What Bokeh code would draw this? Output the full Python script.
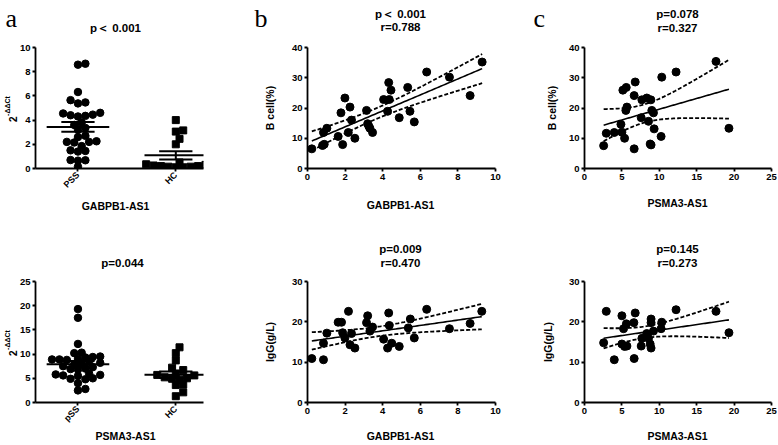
import numpy as np
from bokeh.plotting import figure
from bokeh.layouts import row, column
from bokeh.models import Label, FixedTicker, Range1d, LinearAxis
from bokeh.embed import file_html
from bokeh.resources import INLINE

# ---------------- data ----------------
a1_groups = ["PSS", "HC"]
a1_pss = [8.66, 8.58, 6.32, 5.65, 5.46, 5.38, 4.60, 4.55, 4.45, 4.40, 4.35, 4.30, 3.80, 3.60,
          3.35, 3.20, 2.70, 2.60, 2.25, 2.20, 2.20, 2.15, 1.85, 1.50, 1.45, 1.40, 0.70, 0.68,
          0.65, 0.15]
a1_hc = [4.0, 3.15, 3.05, 2.45, 2.0, 0.50, 0.45, 0.35, 0.30, 0.25, 0.20, 0.20, 0.15, 0.15,
         0.10, 0.10]

a2_groups = ["pSS", "HC"]
a2_pss = [19.3, 17.5, 12.1, 10.3, 10.2, 9.5, 9.4, 9.3, 9.0, 8.9, 8.9, 8.8, 8.3, 8.2, 8.0, 7.9,
          7.5, 7.3, 7.0, 6.9, 6.8, 6.0, 5.8, 5.7, 5.6, 5.5, 5.0, 4.9, 4.8, 4.0, 2.8, 2.5]
a2_hc = [11.4, 10.2, 8.7, 7.2, 6.7, 6.0, 5.7, 5.6, 5.2, 5.0, 4.9, 4.7, 3.7, 3.6, 2.1, 1.3]

b1_x = [0.23, 0.80, 0.89, 0.85, 1.03, 1.63, 1.78, 1.87, 1.99, 2.17, 2.26, 2.34, 2.52, 3.14,
        3.20, 3.26, 3.32, 3.46, 4.05, 4.26, 4.32, 4.35, 4.44, 4.88, 5.33, 5.45, 5.68, 6.34,
        7.55, 8.65, 9.29]
b1_y = [6.5, 7.6, 8.0, 11.9, 13.3, 10.6, 18.4, 7.9, 23.3, 11.9, 20.3, 16.0, 10.0, 19.2,
        14.8, 14.0, 13.3, 11.9, 22.8, 18.9, 28.4, 22.8, 25.9, 16.8, 26.8, 18.9, 15.4, 31.9,
        30.2, 24.1, 35.2]

b2_x = [0.23, 0.85, 0.85, 1.03, 1.63, 1.81, 1.87, 1.99, 2.18, 2.26, 2.34, 2.52, 3.14, 3.20,
        3.32, 3.46, 4.05, 4.26, 4.32, 4.35, 4.48, 4.88, 5.36, 5.47, 5.68, 6.34, 7.55, 8.65,
        9.27]
b2_y = [10.9, 14.7, 10.6, 17.2, 19.9, 19.9, 17.3, 16.0, 22.6, 14.3, 17.1, 13.5, 19.8, 21.5,
        17.7, 18.7, 15.7, 13.5, 22.2, 19.1, 14.7, 13.9, 18.5, 20.7, 16.0, 23.1, 18.3, 19.6,
        22.6]

c1_x = [2.56, 2.91, 3.98, 4.87, 5.00, 5.36, 5.13, 5.58, 5.67, 5.53, 6.64, 6.78, 6.64, 7.67,
        7.58, 8.33, 8.87, 8.56, 9.00, 9.22, 8.78, 8.90, 9.31, 10.24, 10.33, 12.24, 17.58,
        19.31]
c1_y = [7.55, 11.65, 11.9, 14.6, 12.0, 10.0, 25.9, 26.8, 20.3, 19.2, 24.1, 28.6, 6.5, 22.7,
        16.8, 23.3, 22.7, 15.6, 19.2, 18.4, 8.1, 7.8, 13.1, 10.6, 30.2, 31.9, 35.4, 13.3]

c2_x = [2.56, 2.91, 3.98, 5.00, 5.00, 5.36, 5.60, 5.22, 5.67, 6.60, 6.78, 6.64, 7.58, 7.67,
        8.56, 8.33, 8.90, 8.90, 8.78, 8.90, 9.22, 10.33, 10.24, 12.24, 17.58, 19.31]
c2_y = [14.8, 22.6, 10.6, 21.5, 14.5, 13.9, 19.5, 18.3, 14.0, 19.8, 22.2, 10.9, 14.0, 15.9,
        15.9, 17.1, 20.7, 19.8, 14.5, 13.5, 17.7, 19.9, 18.3, 23.0, 22.6, 17.3]

a1_title = "p\uff1c 0.001"
a2_title = "p=0.044"
b1_title = ["p\uff1c 0.001", "r=0.788"]
b2_title = ["p=0.009", "r=0.470"]
c1_title = ["p=0.078", "r=0.327"]
c2_title = ["p=0.145", "r=0.273"]

a1_xlabel = "GABPB1-AS1"
a2_xlabel = "PSMA3-AS1"
b_xlabel = "GABPB1-AS1"
c_xlabel = "PSMA3-AS1"
top_ylabel = "B cell(%)"
bot_ylabel = "IgG(g/L)"
a_ylabel = ["2", "-\u0394\u0394Ct"]
letters = ["a", "b", "c"]

a1_yticks = [0, 2, 4, 6, 8, 10]
a2_yticks = [0, 5, 10, 15, 20, 25]
b_xticks = [0, 2, 4, 6, 8, 10]
c_xticks = [0, 5, 10, 15, 20, 25]
top_yticks = [0, 10, 20, 30, 40]
bot_yticks = [0, 10, 20, 30]

# ---------------- geometry (page pixels) ----------------
FONT = "Liberation Sans"
SERIF = "Liberation Serif"
NB = "\u00a0"

R1 = (0, 39)        # top strip
R2 = (39, 157)      # top plots  (frame 47..171)
R3 = (196, 76)      # middle strip
R4 = (272, 157)     # bottom plots (frame 281..405)
R5 = (429, 15)      # bottom strip
F_TOP = (47, 171)
F_BOT = (281, 405)
COL_A = (0, 242)
COL_B = (242, 278)
COL_C = (520, 257)


def t975(df):
    z = 1.959964
    return (z + (z ** 3 + z) / (4 * df) + (5 * z ** 5 + 16 * z ** 3 + 3 * z) / (96 * df ** 2)
            + (3 * z ** 7 + 19 * z ** 5 + 17 * z ** 3 - 15 * z) / (384 * df ** 3))


def tfig(left, width, rw):
    """Text strip: data units = page pixels."""
    top, height = rw
    p = figure(width=width, height=height, x_range=Range1d(left, left + width),
               y_range=Range1d(top + height, top), x_axis_type=None, y_axis_type=None,
               output_backend="svg", toolbar_location=None, tools="", min_border=0)
    p.outline_line_color = None
    p.background_fill_color = "white"
    p.border_fill_color = "white"
    return p


def add_text(p, x, y, text, size, style="bold", font=FONT, align="center",
             baseline="middle"):
    p.add_layout(Label(x=x, y=y, text=text, text_font=font, text_font_size=size,
                       text_font_style=style, text_align=align, text_baseline=baseline,
                       text_color="black"))


def make_fig(left, width, rw, fx, fy, xr, yr):
    top, height = rw
    fl, fr_ = fx
    ft, fb = fy
    p = figure(width=width, height=height, x_range=Range1d(*xr), y_range=Range1d(*yr),
               output_backend="svg", toolbar_location=None, tools="",
               min_border_left=fl - left, min_border_right=left + width - fr_,
               min_border_top=ft - top, min_border_bottom=top + height - fb)
    p.outline_line_color = None
    p.grid.visible = False
    p.background_fill_color = "white"
    p.border_fill_color = "white"
    for ax in p.axis:
        ax.axis_line_width = 1.8
        ax.axis_line_color = "black"
        ax.major_tick_line_width = 1.8
        ax.major_tick_line_color = "black"
        ax.major_tick_out = 3
        ax.major_tick_in = 0
        ax.minor_tick_out = 0
        ax.minor_tick_in = 0
        ax.major_label_text_font = FONT
        ax.major_label_text_font_style = "bold"
        ax.major_label_text_font_size = "9.5px"
        ax.major_label_text_color = "black"
        ax.major_label_standoff = 2
        ax.axis_label_text_font = FONT
        ax.axis_label_text_font_style = "bold"
        ax.axis_label_text_font_size = "10.5px"
        ax.axis_label_text_color = "black"
    return p, ((fl, fr_, ft, fb), xr, yr)


def a_ylabels(p):
    """2^-ddCt: '2' on the y axis, the raised exponent on a bare extra axis."""
    ya = p.yaxis[0]
    ya.axis_label = a_ylabel[0] + NB * 8
    ya.axis_label_text_font_size = "10px"
    ya.axis_label_standoff = -2
    ex = LinearAxis(ticker=FixedTicker(ticks=[]), axis_line_color=None,
                    major_tick_out=0, major_tick_in=0, minor_tick_out=0, minor_tick_in=0,
                    major_label_text_font_size="1px",
                    axis_label=NB * 2 + a_ylabel[1], axis_label_text_font=FONT,
                    axis_label_text_font_style="bold", axis_label_text_font_size="7px",
                    axis_label_text_color="black", axis_label_standoff=-6)
    p.add_layout(ex, "left")


def swarm_offsets(vals, ppy, ppx, d):
    vals = np.asarray(vals, float)
    order = np.argsort(vals)
    pxs, pys = [], []
    off = np.zeros(len(vals))
    cands = sorted([k * d / 2 for k in range(-14, 15)], key=lambda v: (abs(v), -v))
    for i in order:
        y = vals[i] * ppy
        chosen = 0.0
        for c in cands:
            if all((c - a) ** 2 + (y - b) ** 2 >= (0.82 * d) ** 2 for a, b in zip(pxs, pys)):
                chosen = c
                break
        pxs.append(chosen)
        pys.append(y)
        off[i] = chosen / ppx
    return off


def dot_panel(p, info, groups, series, markers, sizes):
    (fl, fr_, ft, fb), (x0, x1), (y0, y1) = info
    ppx = (fr_ - fl) / (x1 - x0)
    ppy = (fb - ft) / (y1 - y0)
    for gi, (vals, mk, sz) in enumerate(zip(series, markers, sizes)):
        cx = gi + 1
        off = swarm_offsets(vals, ppy, ppx, 7.5)
        p.scatter(cx + off, vals, marker=mk, size=sz, color="black")
        v = np.asarray(vals, float)
        m = v.mean()
        sem = v.std(ddof=1) / np.sqrt(len(v))
        p.segment(x0=[cx - 0.32], y0=[m], x1=[cx + 0.32], y1=[m], line_width=2, color="black")
        p.segment(x0=[cx - 0.17, cx - 0.17, cx], y0=[m + sem, m - sem, m - sem],
                  x1=[cx + 0.17, cx + 0.17, cx], y1=[m + sem, m - sem, m + sem],
                  line_width=2, color="black")
    p.xaxis.ticker = FixedTicker(ticks=[1, 2])
    p.xaxis.major_label_overrides = {1: groups[0], 2: groups[1]}
    p.xaxis.major_label_orientation = np.pi / 4
    p.xaxis.major_label_text_font_size = "9px"


def reg_panel(p, x, y):
    x = np.asarray(x, float)
    y = np.asarray(y, float)
    n = len(x)
    b, a = np.polyfit(x, y, 1)
    xs = np.linspace(x.min(), x.max(), 80)
    yh = a + b * xs
    s = np.sqrt(np.sum((y - (a + b * x)) ** 2) / (n - 2))
    sxx = np.sum((x - x.mean()) ** 2)
    half = t975(n - 2) * s * np.sqrt(1.0 / n + (xs - x.mean()) ** 2 / sxx)
    p.line(xs, yh, line_width=1.6, color="black")
    p.line(xs, yh + half, line_width=1.8, color="black", line_dash="4 2")
    p.line(xs, yh - half, line_width=1.8, color="black", line_dash="4 2")
    p.scatter(x, y, marker="circle", size=8, color="black")


# ---------------- strips ----------------
LETTER_SIZE = "26px"
LETTER_MID = 17.5
sa_top = tfig(COL_A[0], COL_A[1], R1)
add_text(sa_top, 5, LETTER_MID, letters[0], LETTER_SIZE, style="normal", font=SERIF,
         align="left")
add_text(sa_top, 115, 27, a1_title, "11.5px")
sb_top = tfig(COL_B[0], COL_B[1], R1)
add_text(sb_top, 254, LETTER_MID, letters[1], LETTER_SIZE, style="normal", font=SERIF,
         align="left")
add_text(sb_top, 400, 13, b1_title[0], "11.5px")
add_text(sb_top, 400, 26, b1_title[1], "11.5px")
sc_top = tfig(COL_C[0], COL_C[1], R1)
add_text(sc_top, 533, LETTER_MID, letters[2], LETTER_SIZE, style="normal", font=SERIF,
         align="left")
add_text(sc_top, 677, 13, c1_title[0], "11.5px")
add_text(sc_top, 677, 27, c1_title[1], "11.5px")

sa_mid = tfig(COL_A[0], COL_A[1], R3)
add_text(sa_mid, 115, 205, a1_xlabel, "10.5px")
add_text(sa_mid, 122, 262, a2_title, "11.5px")
sb_mid = tfig(COL_B[0], COL_B[1], R3)
add_text(sb_mid, 400, 204, b_xlabel, "10.5px")
add_text(sb_mid, 400, 248, b2_title[0], "11.5px")
add_text(sb_mid, 400, 262, b2_title[1], "11.5px")
sc_mid = tfig(COL_C[0], COL_C[1], R3)
add_text(sc_mid, 677, 202, c_xlabel, "10.5px")
add_text(sc_mid, 677, 248, c2_title[0], "11.5px")
add_text(sc_mid, 677, 262, c2_title[1], "11.5px")

sa_bot = tfig(COL_A[0], COL_A[1], R5)
add_text(sa_bot, 125, 435, a2_xlabel, "10.5px")
sb_bot = tfig(COL_B[0], COL_B[1], R5)
add_text(sb_bot, 400, 435, b_xlabel, "10.5px")
sc_bot = tfig(COL_C[0], COL_C[1], R5)
add_text(sc_bot, 677, 435, c_xlabel, "10.5px")

# ---------------- panel a ----------------
AX = (0.566, 2.283)
A_FX = (33, 203)

pa1, ia1 = make_fig(COL_A[0], COL_A[1], R2, A_FX, F_TOP, AX, (0, 10))
pa1.yaxis.ticker = FixedTicker(ticks=a1_yticks)
a_ylabels(pa1)
dot_panel(pa1, ia1, a1_groups, [a1_pss, a1_hc], ["circle", "square"], [7.5, 7])

pa2, ia2 = make_fig(COL_A[0], COL_A[1], R4, A_FX, F_BOT, AX, (0, 25))
pa2.yaxis.ticker = FixedTicker(ticks=a2_yticks)
a_ylabels(pa2)
dot_panel(pa2, ia2, a2_groups, [a2_pss, a2_hc], ["circle", "square"], [7.5, 7])

# ---------------- panel b ----------------
B_FX = (307, 495)
pb1, _ = make_fig(COL_B[0], COL_B[1], R2, B_FX, F_TOP, (0, 10), (0, 40))
pb1.xaxis.ticker = FixedTicker(ticks=b_xticks)
pb1.yaxis.ticker = FixedTicker(ticks=top_yticks)
pb1.yaxis.axis_label = top_ylabel
pb1.yaxis.axis_label_standoff = 13
reg_panel(pb1, b1_x, b1_y)

pb2, _ = make_fig(COL_B[0], COL_B[1], R4, B_FX, F_BOT, (0, 10), (0, 30))
pb2.xaxis.ticker = FixedTicker(ticks=b_xticks)
pb2.yaxis.ticker = FixedTicker(ticks=bot_yticks)
pb2.yaxis.axis_label = bot_ylabel
pb2.yaxis.axis_label_standoff = 13
reg_panel(pb2, b2_x, b2_y)

# ---------------- panel c ----------------
C_FX = (584, 771)
pc1, _ = make_fig(COL_C[0], COL_C[1], R2, C_FX, F_TOP, (0, 25), (0, 40))
pc1.xaxis.ticker = FixedTicker(ticks=c_xticks)
pc1.yaxis.ticker = FixedTicker(ticks=top_yticks)
pc1.yaxis.axis_label = top_ylabel
pc1.yaxis.axis_label_standoff = 8
reg_panel(pc1, c1_x, c1_y)

pc2, _ = make_fig(COL_C[0], COL_C[1], R4, C_FX, F_BOT, (0, 25), (0, 30))
pc2.xaxis.ticker = FixedTicker(ticks=c_xticks)
pc2.yaxis.ticker = FixedTicker(ticks=bot_yticks)
pc2.yaxis.axis_label = bot_ylabel
pc2.yaxis.axis_label_standoff = 12
reg_panel(pc2, c2_x, c2_y)

layout = column(
    row(sa_top, sb_top, sc_top),
    row(pa1, pb1, pc1),
    row(sa_mid, sb_mid, sc_mid),
    row(pa2, pb2, pc2),
    row(sa_bot, sb_bot, sc_bot),
)

with open("out.html", "w") as f:
    f.write(file_html(layout, INLINE))
